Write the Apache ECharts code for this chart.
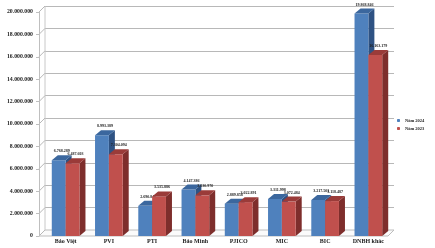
<!DOCTYPE html>
<html><head><meta charset="utf-8">
<script src="https://cdn.jsdelivr.net/npm/echarts@6/dist/echarts.min.js"></script>
<style>html,body{margin:0;padding:0;background:#fff}#c{width:435px;height:248px}</style>
</head><body><div id="c"></div>
<script>
const categories = ['Bảo Việt','PVI','PTI','Bảo Minh','PJICO','MIC','BIC','DNBH khác'];
const seriesNames = ['Năm 2024','Năm 2023'];
const values2024 = [6768289, 8993389, 2690846, 4147386, 2889858, 3311998, 3217503, 19868846];
const values2023 = [6487603, 7304094, 3535886, 3630970, 3022891, 3072484, 3118487, 16163179];
const yTicks = [0,2000000,4000000,6000000,8000000,10000000,12000000,14000000,16000000,18000000,20000000];

const fmt = v => String(v).replace(/\B(?=(\d{3})+(?!\d))/g, '.');
const FONT = '"Liberation Serif", "DejaVu Serif", serif';
const colors = [
  {front:'#4F81BD', top:'#3B679E', side:'#2E5283'},
  {front:'#C0504D', top:'#9A3B39', side:'#7E2E2C'}
];
const DX = 6, DY = -5;

function makeRender(k){
  return function(params, api){
    const i = api.value(0), v = api.value(1);
    const base = api.coord([i, 0]);
    const top = api.coord([i, v]);
    const band = api.size([1, 0])[0];
    const w = band * 0.32;
    const x0 = k === 0 ? base[0] - w : base[0];
    const yt = top[1], yb = base[1];
    const c = colors[k];
    return {
      type: 'group',
      children: [
        {type:'polygon', shape:{points:[[x0+w,yt],[x0+w+DX,yt+DY],[x0+w+DX,yb+DY],[x0+w,yb]]}, style:{fill:c.side}},
        {type:'rect', shape:{x:x0, y:yt, width:w, height:yb-yt}, style:{fill:c.front}},
        {type:'polygon', shape:{points:[[x0,yt],[x0+w,yt],[x0+w+DX,yt+DY],[x0+DX,yt+DY]]}, style:{fill:c.top}},
        {type:'text', style:{text:fmt(v), x:x0+w/2+DX/2, y:yt+DY-2, align:'center', verticalAlign:'bottom',
          font:'bold 4px ' + FONT, fill:'#222'}}
      ]
    };
  };
}

const chart = echarts.init(document.getElementById('c'), null, {renderer:'canvas'});
const option = {
  animation:false,
  backgroundColor:'#fff',
  grid:[
    {left:44, right:45, top:12, bottom:12},
    {left:45, right:41, top:6, bottom:18}
  ],
  legend:{
    data:seriesNames, orient:'vertical', left:392, top:113, itemWidth:3, itemHeight:3, itemGap:3,
    textStyle:{fontSize:4.5, fontFamily:FONT, fontWeight:'bold', color:'#222'}
  },
  xAxis:[
    {type:'category', gridIndex:0, data:categories, axisLine:{show:false}, axisTick:{show:false},
     axisLabel:{fontSize:6, fontFamily:FONT, fontWeight:'bold', color:'#222', margin:2}},
    {type:'category', gridIndex:1, data:categories, show:false}
  ],
  yAxis:[
    {type:'value', gridIndex:0, min:0, max:20000000, interval:2000000, offset:5,
     axisLine:{show:true, lineStyle:{color:'#BFBFBF'}}, axisTick:{show:true, length:3, lineStyle:{color:'#BFBFBF'}},
     splitLine:{show:false},
     axisLabel:{formatter:v=>fmt(v), fontSize:5.8, fontFamily:FONT, fontWeight:'bold', color:'#222', margin:6}},
    {type:'value', gridIndex:1, min:0, max:20000000, interval:2000000,
     axisLine:{show:false}, axisTick:{show:false}, axisLabel:{show:false},
     splitLine:{show:true, lineStyle:{color:'#B8B8B8', width:1}}}
  ],
  series:[
    {name:seriesNames[0], type:'custom', xAxisIndex:0, yAxisIndex:0, z:3,
     itemStyle:{color:colors[0].front}, renderItem:makeRender(0),
     data:values2024.map((v,i)=>[i,v])},
    {name:seriesNames[1], type:'custom', xAxisIndex:0, yAxisIndex:0, z:4,
     itemStyle:{color:colors[1].front}, renderItem:makeRender(1),
     data:values2023.map((v,i)=>[i,v])}
  ]
};
chart.setOption(option);

const gFront = chart.convertToPixel({yAxisIndex:0}, 0);
const gBackTop = chart.convertToPixel({yAxisIndex:1}, 0);
const leftX = 39, backLeft = 45, rightBack = 394, rightFront = 388;
const gfx = [
  {type:'polygon', z:0, shape:{points:[[leftX,gFront],[rightFront,gFront],[rightBack,gBackTop],[backLeft,gBackTop]]},
   style:{fill:'#FBFBFB', stroke:'#BDBDBD', lineWidth:1}},
  {type:'line', z:0, shape:{x1:backLeft, y1:gBackTop, x2:backLeft, y2:chart.convertToPixel({yAxisIndex:1}, 20000000)},
   style:{stroke:'#C8C8C8', lineWidth:1}}
];
yTicks.forEach(t=>{
  const yf = chart.convertToPixel({yAxisIndex:0}, t);
  const yb = chart.convertToPixel({yAxisIndex:1}, t);
  gfx.push({type:'line', z:0, shape:{x1:leftX, y1:yf, x2:backLeft, y2:yb}, style:{stroke:'#B8B8B8', lineWidth:1}});
});
chart.setOption({graphic:gfx});
</script></body></html>
